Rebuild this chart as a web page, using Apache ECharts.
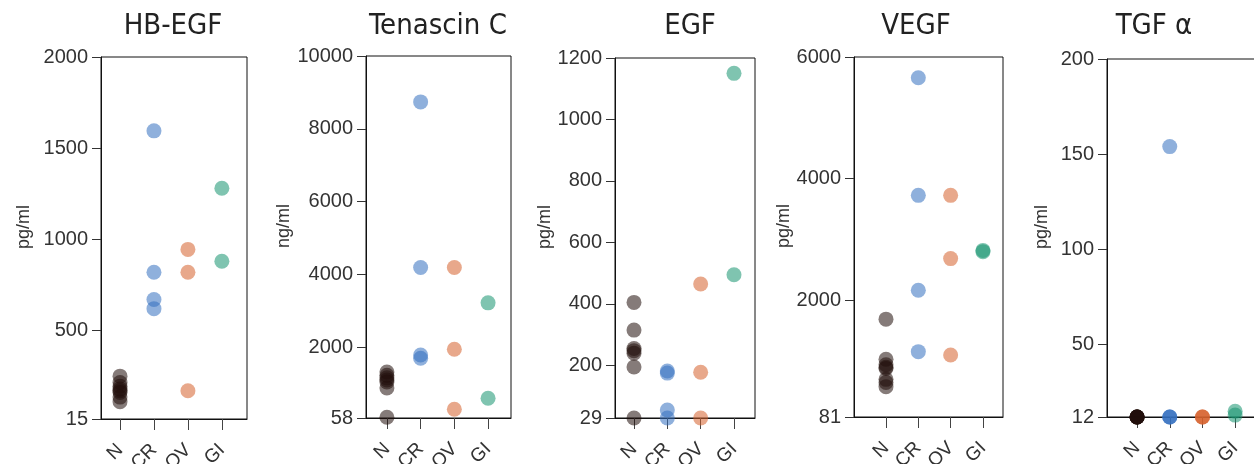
<!DOCTYPE html>
<html>
<head>
<meta charset="utf-8">
<script src="https://cdn.jsdelivr.net/npm/echarts@6/dist/echarts.min.js"></script>
<style>
  html, body { margin: 0; padding: 0; background: #fff; }
  #main { width: 1254px; height: 464px; }
</style>
</head>
<body>
<div id="main"></div>
<script>
'use strict';

/* ===== data ===== */
const groups = ['N', 'CR', 'OV', 'GI'];
const titles = ['HB-EGF', 'Tenascin C', 'EGF', 'VEGF', 'TGF α'];
const units = ['pg/ml', 'ng/ml', 'pg/ml', 'pg/ml', 'pg/ml'];

// one inner list per group: N, CR, OV, GI
const hbEgf = [
  [250, 215, 195, 180, 170, 160, 135, 110],
  [1595, 820, 670, 620],
  [945, 820, 170],
  [1280, 880]
];
const tenascinC = [
  [1320, 1230, 1160, 1100, 1050, 880, 80],
  [8740, 4190, 1790, 1700],
  [4190, 1945, 300],
  [3220, 600]
];
const egf = [
  [405, 315, 255, 248, 240, 195, 29],
  [182, 175, 55, 29],
  [465, 178, 29],
  [1150, 495]
];
const vegf = [
  [1690, 1030, 940, 900, 880, 700, 650, 580],
  [5660, 3725, 2165, 1155],
  [3725, 2685, 1100],
  [2820, 2800]
];
const tgfA = [
  [12, 12, 12, 12, 12, 12, 12],
  [154, 12, 12, 12],
  [12, 12, 12],
  [15, 13]
];

const hbEgfTicks = [15, 500, 1000, 1500, 2000];
const tenascinCTicks = [58, 2000, 4000, 6000, 8000, 10000];
const egfTicks = [29, 200, 400, 600, 800, 1000, 1200];
const vegfTicks = [81, 2000, 4000, 6000];
const tgfATicks = [12, 50, 100, 150, 200];

/* ===== layout ===== */
const groupColors = ['#210e0b', '#336fbf', '#d5612b', '#169470'];
const fontFamily = '"Liberation Sans", Arial, sans-serif';
const titleFont = '"DejaVu Sans Condensed", "Liberation Sans Narrow", sans-serif';

const panels = [
  { values: hbEgf, ticks: hbEgfTicks, grid: { left: 101, top: 57, width: 146, height: 362 }, xMin: 0.44, xMax: 4.74, nameGap: 68, titleX: 173 },
  { values: tenascinC, ticks: tenascinCTicks, grid: { left: 366, top: 56, width: 145, height: 362 }, xMin: 0.38, xMax: 4.68, nameGap: 68, titleX: 438 },
  { values: egf, ticks: egfTicks, grid: { left: 615, top: 58, width: 140, height: 360 }, xMin: 0.43, xMax: 4.63, nameGap: 55, titleX: 690 },
  { values: vegf, ticks: vegfTicks, grid: { left: 854, top: 57, width: 149, height: 360 }, xMin: 0.01, xMax: 4.62, nameGap: 56, titleX: 916 },
  { values: tgfA, ticks: tgfATicks, grid: { left: 1107, top: 59, width: 152, height: 358 }, xMin: 0.08, xMax: 4.73, nameGap: 56, titleX: 1154 }
];

var title = [], grid = [], xAxis = [], yAxis = [], series = [];

panels.forEach(function (p, i) {
  title.push({
    text: titles[i],
    left: p.titleX,
    top: 12,
    padding: 0,
    textAlign: 'center',
    textStyle: { fontFamily: titleFont, fontSize: 29, fontWeight: 'normal', color: '#222' }
  });
  grid.push(Object.assign({
    show: true, borderColor: '#111', borderWidth: 1, backgroundColor: 'transparent',
    containLabel: false, outerBoundsMode: 'none'
  }, p.grid));

  xAxis.push({
    type: 'value',
    gridIndex: i,
    min: p.xMin,
    max: p.xMax,
    splitLine: { show: false },
    axisLine: { show: true, lineStyle: { color: '#111', width: 1 } },
    axisTick: { show: true, length: 11, customValues: [1, 2, 3, 4], lineStyle: { color: '#444' } },
    axisLabel: {
      customValues: [1, 2, 3, 4],
      formatter: function (v) { return groups[Math.round(v) - 1]; },
      rotate: 45,
      margin: 28,
      fontFamily: fontFamily,
      fontSize: 19,
      color: '#333'
    }
  });

  yAxis.push({
    type: 'value',
    gridIndex: i,
    min: p.ticks[0],
    max: p.ticks[p.ticks.length - 1],
    name: units[i],
    nameLocation: 'middle',
    nameGap: p.nameGap,
    nameTextStyle: { fontFamily: fontFamily, fontSize: 18, color: '#333', padding: [0, 0, 0, 22] },
    splitLine: { show: false },
    axisLine: { show: true, lineStyle: { color: '#111', width: 1 } },
    axisTick: { show: true, length: 9, customValues: p.ticks, lineStyle: { color: '#333' } },
    axisLabel: {
      customValues: p.ticks,
      formatter: function (v) { return String(v); },
      margin: 13,
      fontFamily: fontFamily,
      fontSize: 20,
      color: '#333'
    }
  });

  p.values.forEach(function (vals, g) {
    series.push({
      type: 'scatter',
      xAxisIndex: i,
      yAxisIndex: i,
      name: groups[g],
      clip: false,
      symbolSize: 15,
      z: 5,
      itemStyle: { color: groupColors[g], opacity: 0.55 },
      data: vals.map(function (v) { return [g + 1, v]; })
    });
  });
});

var myChart = echarts.init(document.getElementById('main'));
myChart.setOption({
  animation: false,
  title: title,
  grid: grid,
  xAxis: xAxis,
  yAxis: yAxis,
  series: series
});
</script>
</body>
</html>
